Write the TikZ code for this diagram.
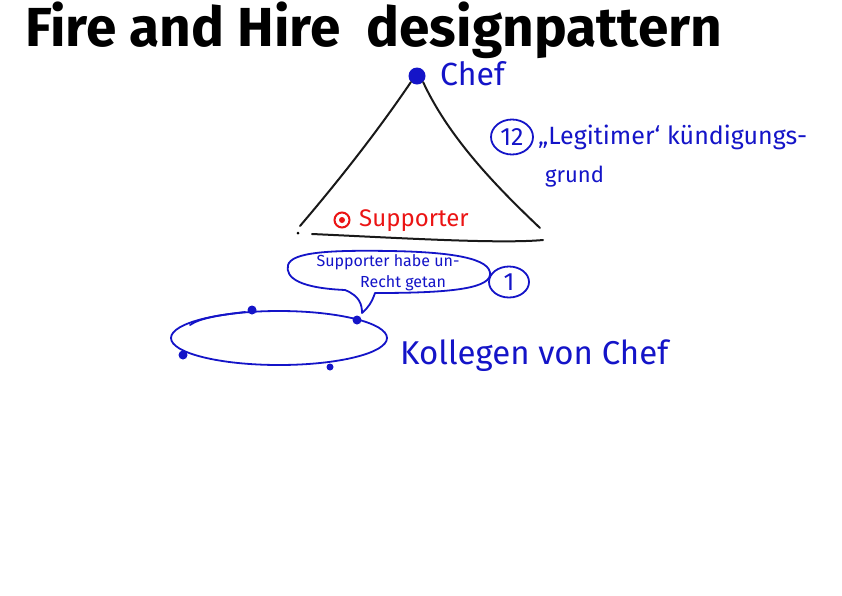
\documentclass[tikz,border=0pt]{standalone}
\usepackage{fontspec}
\setmainfont{Fira Sans}
\definecolor{pen}{RGB}{20,20,200}
\definecolor{redpen}{RGB}{235,20,20}
\tikzset{
  penline/.style={draw=pen, line width=1.8pt, line cap=round, line join=round},
  blacklinestyle/.style={draw=black!90, line width=2pt, line cap=round},
  bluetext/.style={text=pen, inner sep=0pt, anchor=west},
  dotmark/.style={circle, fill=pen, inner sep=0pt, minimum size=9pt},
  numcircle/.style={ellipse, draw=pen, line width=1.8pt, text=pen, inner sep=0pt, minimum width=42pt, minimum height=35pt, font=\fontsize{25}{27}\selectfont}
}
\usetikzlibrary{shapes.geometric}
\begin{document}
\begin{tikzpicture}[x=1pt,y=-1pt]
\useasboundingbox[fill=white] (0,0) rectangle (842,595);
% title
\node[anchor=west, inner sep=0pt, font=\fontsize{55}{58}\selectfont\bfseries] (title) at (25,30) {Fire and Hire\ \ designpattern};
% chef
\node[circle, fill=pen, inner sep=0pt, minimum size=17pt] (chef) at (417,76) {};
\node[bluetext, font=\fontsize{32}{34}\selectfont] (cheflabel) at (440,74) {Chef};
% triangle
\coordinate (bl) at (300,226);
\coordinate (br) at (540,228);
\draw[blacklinestyle] (chef.south west) .. controls (375,135) and (335,185) .. (bl);
\draw[blacklinestyle] (chef.south east) .. controls (450,140) and (500,190) .. (br);
\coordinate (basel) at (312,234);
\coordinate (baser) at (543,240);
\draw[blacklinestyle] (basel) .. controls (400,238) and (500,244) .. (baser);
\node[circle, fill=black, inner sep=0pt, minimum size=3pt] (dot0) at (298,233) {};
% supporter
\node[circle, draw=redpen, line width=2pt, inner sep=0pt, minimum size=15pt] (supdot) at (342,220) {};
\node[circle, fill=redpen, inner sep=0pt, minimum size=6pt] at (supdot) {};
\node[anchor=west, inner sep=0pt, text=redpen, font=\fontsize{24}{26}\selectfont] (suplabel) at (359,221) {Supporter};
% 12
\node[numcircle] (n12) at (512,137) {12};
\node[bluetext, font=\fontsize{25}{27}\selectfont] (legit) at (538,137) {„Legitimer‘ kündigungs-};
\node[bluetext, font=\fontsize{22}{24}\selectfont] (grund) at (545,177) {grund};
% speech bubble
\coordinate (tail) at (362,313);
\draw[penline] (345,290) .. controls (300,288) and (285,278) .. (288,265)
  .. controls (292,252) and (330,250) .. (390,251)
  .. controls (450,252) and (492,258) .. (490,275)
  .. controls (488,290) and (440,293) .. (375,293)
  .. controls (372,302) and (368,308) .. (tail)
  .. controls (362,305) and (360,296) .. (345,290) -- cycle;
\node[text=pen, align=center, inner sep=0pt, font=\fontsize{16}{21}\selectfont] (bubbletext) at (388,273) {Supporter habe un-\\\hspace*{30pt}Recht getan};
% 1
\node[numcircle, minimum width=40pt, minimum height=31pt] (n1) at (509,282) {1};
% colleagues ellipse
\draw[penline] (279,338) ellipse [x radius=108, y radius=27];
\draw[penline] (190,325) .. controls (200,318) and (220,315) .. (245,312);
\node[dotmark] (k1) at (252,310) {};
\node[dotmark] (k2) at (357,320) {};
\node[dotmark] (k3) at (183,355) {};
\node[dotmark, minimum size=7pt] (k4) at (330,367) {};
\node[bluetext, font=\fontsize{33}{35}\selectfont] (koll) at (400,356) {Kollegen von Chef};
\end{tikzpicture}
\end{document}
